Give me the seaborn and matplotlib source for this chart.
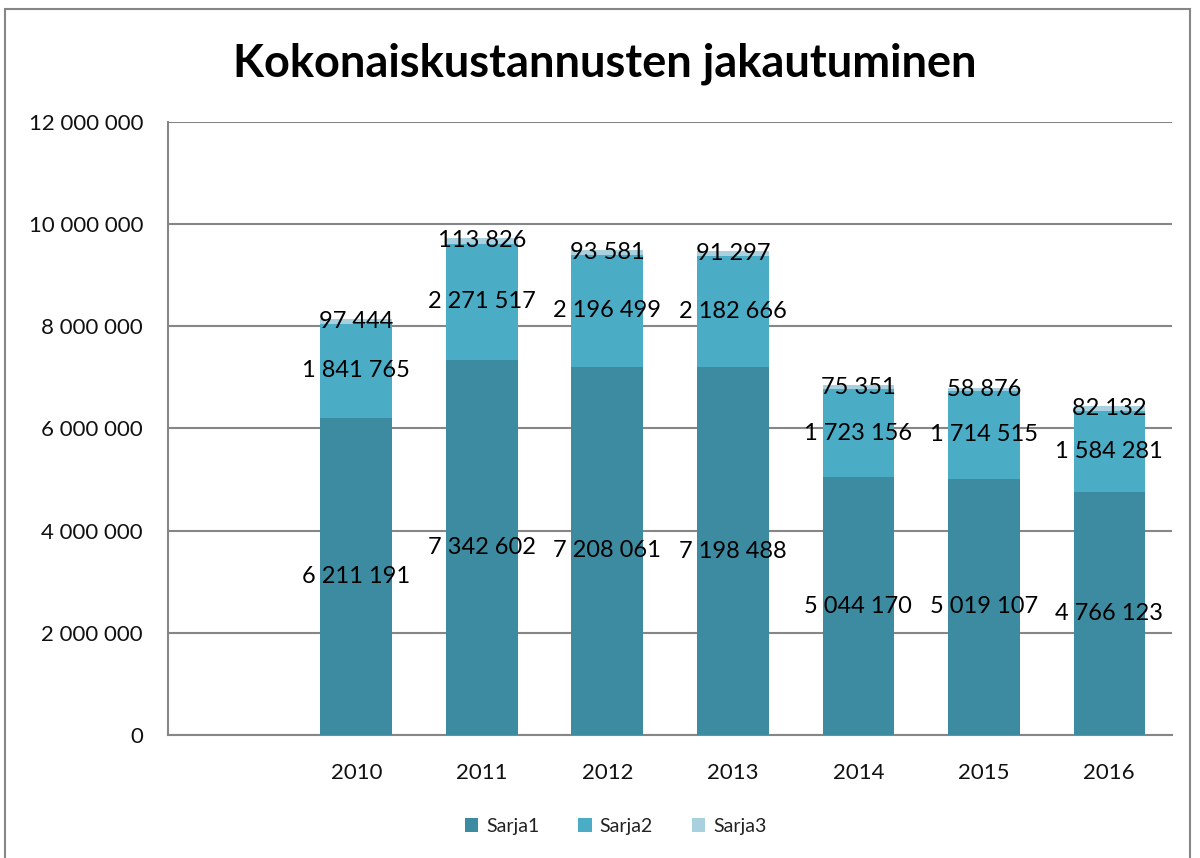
import matplotlib
matplotlib.use("Agg")
import matplotlib.pyplot as plt
import seaborn as sns
import numpy as np
import pandas as pd
from matplotlib.patches import Patch, Rectangle
from matplotlib.ticker import FuncFormatter

categories = ["", "2010", "2011", "2012", "2013", "2014", "2015", "2016"]
sarja1 = [np.nan, 6211191, 7342602, 7208061, 7198488, 5044170, 5019107, 4766123]
sarja2 = [np.nan, 1841765, 2271517, 2196499, 2182666, 1723156, 1714515, 1584281]
sarja3 = [np.nan, 97444, 113826, 93581, 91297, 75351, 58876, 82132]
series_names = ["Sarja1", "Sarja2", "Sarja3"]
title = "Kokonaiskustannusten jakautuminen"

colors = ["#3D8BA1", "#4BACC6", "#A8D0DE"]

sns.set_theme(style="white")
plt.rcParams['font.family'] = ['Lato', 'DejaVu Sans']

fig = plt.figure(figsize=(12, 8.58), dpi=100)
ax = fig.add_axes([0.14, 0.1434, 0.8367, 0.7144])

s1 = np.array(sarja1, dtype=float)
s2 = np.array(sarja2, dtype=float)
s3 = np.array(sarja3, dtype=float)
df = pd.DataFrame({"cat": categories, "t3": s1 + s2 + s3, "t2": s1 + s2, "t1": s1})

for col, c in zip(["t3", "t2", "t1"], [colors[2], colors[1], colors[0]]):
    sns.barplot(data=df, x="cat", y=col, order=categories, color=c, width=0.57,
                saturation=1, ax=ax, linewidth=0, zorder=3)

ax.set_ylim(0, 12000000)
ax.set_yticks(np.arange(0, 12000001, 2000000))
ax.yaxis.set_major_formatter(FuncFormatter(lambda v, p: f"{int(v):,}".replace(",", " ")))
ax.set_xlim(-0.5, len(categories) - 0.5)
ax.set_xlabel("")
ax.set_ylabel("")
ax.grid(axis="y", color="#868686", linewidth=1.5, zorder=0)
ax.set_axisbelow(True)
for s in ["top", "right"]:
    ax.spines[s].set_visible(False)
for s in ["left", "bottom"]:
    ax.spines[s].set_color("#868686")
    ax.spines[s].set_linewidth(1.5)
ax.tick_params(axis="y", labelsize=16, pad=18, length=0, colors="#111111")
ax.tick_params(axis="x", labelsize=16, pad=20, length=0, colors="#111111")

def fmt(v):
    return f"{int(v):,}".replace(",", " ")

for i in range(len(categories)):
    if np.isnan(s1[i]):
        continue
    ax.text(i, s1[i] / 2, fmt(s1[i]), ha="center", va="center", fontsize=17, color="#000000", zorder=5)
    ax.text(i, s1[i] + s2[i] / 2, fmt(s2[i]), ha="center", va="center", fontsize=17, color="#000000", zorder=5)
    ax.text(i, s1[i] + s2[i] + s3[i] / 2, fmt(s3[i]), ha="center", va="center", fontsize=17, color="#000000", zorder=5)

fig.text(0.504, 0.926, title, ha="center", va="center", fontsize=32.5, fontweight="bold", color="#000000")

handles = [Patch(facecolor=c, edgecolor="none") for c in colors]
fig.legend(handles, series_names, loc="center", bbox_to_anchor=(0.513, 0.037), ncol=3,
           frameon=False, fontsize=14, handlelength=0.7, handleheight=0.7,
           columnspacing=2.0, handletextpad=0.4, labelcolor="#222222")

fig.patches.append(Rectangle((0.004, -0.1), 0.988, 1.09, transform=fig.transFigure,
                             fill=False, edgecolor="#868686", linewidth=1.5))

fig.savefig("out.png", dpi=100)
